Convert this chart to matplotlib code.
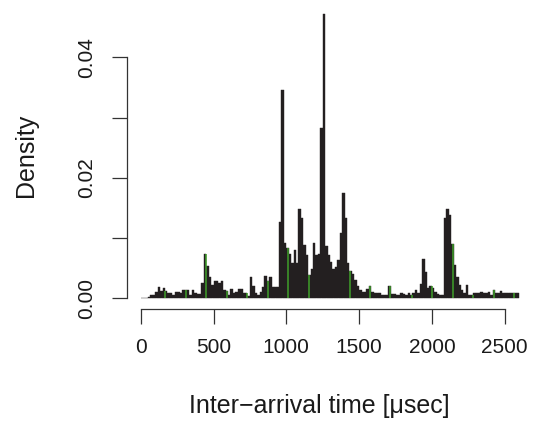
import numpy as np
import matplotlib
matplotlib.use('Agg')
import matplotlib.pyplot as plt

plt.rcParams['font.family'] = ['Liberation Sans', 'DejaVu Sans']

# histogram of inter-arrival times, 156 bins over 0..2600 usec (density)
density = [
    0.0000, 0.0000, 0.0001, 0.0002, 0.0005, 0.0006, 0.0011, 0.0018, 0.0012, 0.0017,
    0.0012, 0.0009, 0.0009, 0.0006, 0.0010, 0.0010, 0.0008, 0.0013, 0.0013, 0.0013,
    0.0006, 0.0013, 0.0008, 0.0007, 0.0007, 0.0025, 0.0074, 0.0053, 0.0036, 0.0022,
    0.0029, 0.0029, 0.0025, 0.0028, 0.0014, 0.0012, 0.0006, 0.0015, 0.0008, 0.0011,
    0.0015, 0.0015, 0.0008, 0.0009, 0.0004, 0.0035, 0.0020, 0.0008, 0.0006, 0.0010,
    0.0019, 0.0037, 0.0028, 0.0035, 0.0019, 0.0019, 0.0019, 0.0126, 0.0346, 0.0092,
    0.0083, 0.0074, 0.0058, 0.0080, 0.0058, 0.0148, 0.0133, 0.0089, 0.0072, 0.0039,
    0.0048, 0.0092, 0.0072, 0.0073, 0.0282, 0.0472, 0.0086, 0.0072, 0.0061, 0.0048,
    0.0052, 0.0064, 0.0108, 0.0175, 0.0133, 0.0058, 0.0045, 0.0040, 0.0030, 0.0020,
    0.0014, 0.0011, 0.0011, 0.0015, 0.0020, 0.0011, 0.0008, 0.0008, 0.0008, 0.0006,
    0.0006, 0.0005, 0.0021, 0.0007, 0.0007, 0.0006, 0.0006, 0.0009, 0.0007, 0.0006,
    0.0008, 0.0006, 0.0009, 0.0014, 0.0008, 0.0024, 0.0066, 0.0044, 0.0017, 0.0020,
    0.0017, 0.0011, 0.0007, 0.0006, 0.0006, 0.0133, 0.0148, 0.0138, 0.0090, 0.0055,
    0.0036, 0.0022, 0.0014, 0.0008, 0.0022, 0.0006, 0.0006, 0.0008, 0.0008, 0.0008,
    0.0011, 0.0008, 0.0008, 0.0011, 0.0006, 0.0013, 0.0008, 0.0008, 0.0012, 0.0008,
    0.0008, 0.0008, 0.0008, 0.0009, 0.0008, 0.0008,
]
t_max = 2600
# green marker lines (usec)
green_x = [167, 311, 448, 593, 730, 874, 1011, 1155, 1437, 1574, 1711, 1862,
           1999, 2144, 2281, 2425, 2562]

x_ticks = [0, 500, 1000, 1500, 2000, 2500]
x_labels = ['0', '500', '1000', '1500', '2000', '2500']
y_ticks = [0.0, 0.01, 0.02, 0.03, 0.04]
y_labels = ['0.00', '', '0.02', '', '0.04']

W, H = 537, 422
fig = plt.figure(figsize=(W / 100, H / 100), dpi=100)
# axes box in pixels: left 127.3, right 525, top 10, bottom 309.3
l, r, t, b = 127.3, 525.0, 10.0, 309.3
ax = fig.add_axes([l / W, 1 - b / H, (r - l) / W, (b - t) / H])

px_per_x = 0.1456
x0_px = 140.7
px_per_y = 6025.0
y0_px = 298.3
ax.set_xlim((l - x0_px) / px_per_x, (r - x0_px) / px_per_x)
ax.set_ylim((y0_px - b) / px_per_y, (y0_px - t) / px_per_y)

edges = np.linspace(0, t_max, len(density) + 1)
widths = np.diff(edges)
ax.bar(edges[:-1], density, width=widths, align='edge',
       color='#231f20', edgecolor='#231f20', linewidth=0.3)

dens = np.array(density)
idx = np.clip(np.searchsorted(edges, green_x) - 1, 0, len(density) - 1)
ax.vlines(green_x, 0, dens[idx], colors='#3f9f2a', linewidth=1.1)

for s in ['top', 'right']:
    ax.spines[s].set_visible(False)
for s in ['left', 'bottom']:
    ax.spines[s].set_color('#333333')
    ax.spines[s].set_linewidth(0.9)
ax.spines['left'].set_bounds(0, 0.04)
ax.spines['bottom'].set_bounds(0, 2500)

ax.set_xticks(x_ticks)
ax.set_xticklabels(x_labels)
ax.set_yticks(y_ticks)
ax.set_yticklabels(y_labels, rotation=90, va='center')
ax.tick_params(axis='both', length=10.6, width=0.9, color='#333333',
               labelsize=15, labelcolor='#1a1a1a')
ax.tick_params(axis='x', pad=10)
ax.tick_params(axis='y', pad=12)

fig.text(319 / W, 1 - 406 / H, 'Inter\u2212arrival time [\u03bcsec]',
         ha='center', va='center', fontsize=18, color='#1a1a1a')
fig.text(26 / W, 1 - 155 / H, 'Density', rotation=90,
         ha='center', va='center', fontsize=18, color='#1a1a1a')

fig.savefig('out.png', dpi=100)
